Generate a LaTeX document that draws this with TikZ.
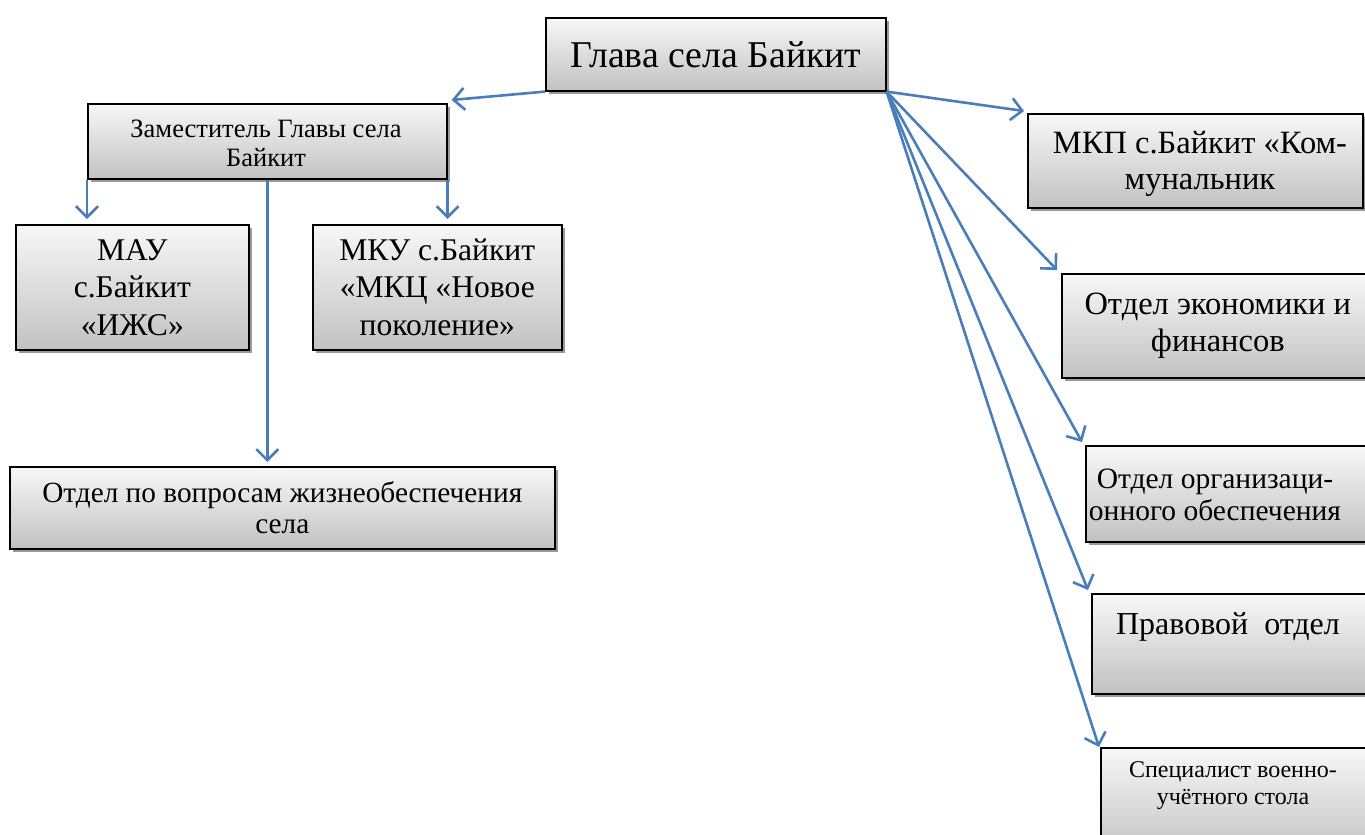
\documentclass[tikz,border=0pt]{standalone}
\usepackage{fontspec}
\setmainfont{Liberation Serif}
\usetikzlibrary{arrows.meta,shadows}
\definecolor{connblue}{HTML}{4A7EBB}
\tikzset{
 box/.style={draw=black, line width=1.6pt, top color=gray!6, bottom color=gray!48,
   drop shadow={shadow xshift=3pt, shadow yshift=-3pt, fill=gray!80, opacity=1},
   anchor=north west, inner sep=2pt, align=center, text=black},
 lbl/.style={align=center, text=black, inner sep=0pt},
 conn/.style={draw=connblue, line width=2.6pt, -{Straight Barb[length=11pt,width=22pt,line width=2.6pt]}},
}
\newcommand{\fs}[2]{\fontsize{#1}{#2}\selectfont}
\begin{document}
\begin{tikzpicture}[x=1pt,y=-1pt]
\useasboundingbox (0,0) rectangle (1365,835);
\node[box, minimum width=340pt, minimum height=73pt, font=\fs{37.8}{44}] (glava) at (545,17) {Глава села Байкит};
\node[box, minimum width=359pt, minimum height=75pt] (zam) at (87,103) {};
\node[lbl, font=\fs{26.5}{29}] (zamtext) at (266,143) {Заместитель Главы села\\Байкит};
\node[box, minimum width=233pt, minimum height=125pt, font=\fs{31.6}{37.5}] (mau) at (15,224) {МАУ\\с.Байкит\\«ИЖС»};
\node[box, minimum width=249pt, minimum height=125pt, font=\fs{31.6}{37.5}] (mku) at (312,224) {МКУ с.Байкит\\«МКЦ «Новое\\поколение»};
\node[box, minimum width=545pt, minimum height=82pt, font=\fs{29.3}{31}] (otdzh) at (9,466) {Отдел по вопросам жизнеобеспечения\\села};
\node[box, minimum width=335pt, minimum height=94pt] (mkp) at (1027,113) {};
\node[lbl, font=\fs{32.5}{36}] (mkptext) at (1200,164) {МКП с.Байкит «Ком-\\мунальник};
\node[box, minimum width=312pt, minimum height=104pt, font=\fs{32.5}{37}] (econ) at (1061,273) {Отдел экономики и\\финансов};
\node[box, minimum width=290pt, minimum height=96pt] (org) at (1085,445) {};
\node[lbl, font=\fs{29.5}{32}] (orgtext) at (1215,495) {Отдел организаци-\\онного обеспечения};
\node[box, minimum width=285pt, minimum height=100pt] (prav) at (1091,593) {};
\node[lbl, font=\fs{32}{37}] (pravtext) at (1228,627) {Правовой\ \ отдел};
\node[box, minimum width=275pt, minimum height=110pt] (spec) at (1100,747) {};
\node[lbl, font=\fs{24}{27}] (spectext) at (1233,786) {Специалист военно-\\учётного стола};
% connectors
\coordinate (tm) at ([yshift=5pt]mau.north);
\coordinate (to) at ([yshift=4pt]otdzh.north);
\draw[conn] (glava.south west) -- ([xshift=4pt,yshift=3pt]zam.north east);
\draw[conn] (zam.south west) -- (zam.south west |- tm);
\draw[conn] (zam.south east) -- (zam.south east |- tm);
\draw[conn] (zam.south) -- (zam.south |- to);
\draw[conn] (glava.south east) -- ([xshift=-3pt,yshift=2pt]mkp.north west);
\draw[conn] (glava.south east) -- ([xshift=-4pt,yshift=3pt]econ.north west);
\draw[conn] (glava.south east) -- ([xshift=-3pt,yshift=3pt]org.north west);
\draw[conn] (glava.south east) -- ([xshift=-3pt,yshift=3pt]prav.north west);
\draw[conn] (glava.south east) -- ([xshift=-1pt,yshift=0pt]spec.north west);
\end{tikzpicture}
\end{document}
